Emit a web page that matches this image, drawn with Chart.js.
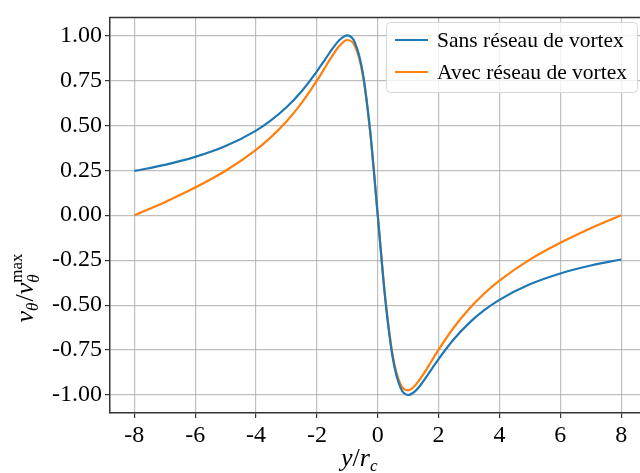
<!DOCTYPE html>
<html>
<head>
<meta charset="utf-8">
<script src="https://cdn.jsdelivr.net/npm/chart.js@4"></script>
<style>
  html, body { margin: 0; padding: 0; background: #fff; }
  #wrap { width: 640px; height: 473px; }
</style>
</head>
<body>
<div id="wrap"><canvas id="grafica"></canvas></div>
<script>
// positions y/r_c
const xValues = [-8, -7, -6, -5, -4, -3.5, -3, -2.5, -2, -1.75, -1.5, -1.25, -1, -0.75, -0.5, -0.25,
  0, 0.25, 0.5, 0.75, 1, 1.25, 1.5, 1.75, 2, 2.5, 3, 3.5, 4, 5, 6, 7, 8];

// Sans réseau de vortex
const sansReseau = [0.2462, 0.28, 0.3243, 0.3846, 0.4706, 0.5283, 0.6, 0.6897, 0.8, 0.8615, 0.9231, 0.9756, 1.0, 0.96, 0.8, 0.4706,
  0, -0.4706, -0.8, -0.96, -1.0, -0.9756, -0.9231, -0.8615, -0.8, -0.6897, -0.6, -0.5283, -0.4706, -0.3846, -0.3243, -0.28, -0.2462];

// Avec réseau de vortex
const avecReseau = [0, 0.0724, 0.1536, 0.247, 0.3633, 0.4354, 0.5211, 0.6244, 0.7481, 0.8162, 0.8843, 0.9433, 0.9742, 0.9407, 0.7872, 0.4643,
  0, -0.4643, -0.7872, -0.9407, -0.9742, -0.9433, -0.8843, -0.8162, -0.7481, -0.6244, -0.5211, -0.4354, -0.3633, -0.247, -0.1536, -0.0724, 0];

const xTicks = [-8, -6, -4, -2, 0, 2, 4, 6, 8];
const yTicks = [-1, -0.75, -0.5, -0.25, 0, 0.25, 0.5, 0.75, 1];
const legendLabels = ["Sans réseau de vortex", "Avec réseau de vortex"];

const BLUE = "#1f77b4";
const ORANGE = "#ff7f0e";
const SERIF = "'Liberation Serif', 'DejaVu Serif', serif";

function pts(ys) {
  return xValues.map((x, i) => ({ x: x, y: ys[i] }));
}

// titres, cadre du haut et légende dessinés à la main
const decorPlugin = {
  id: "decor",
  afterDraw(chart) {
    const ctx = chart.ctx;
    const a = chart.chartArea;
    ctx.save();

    // ligne du haut
    ctx.strokeStyle = "#333";
    ctx.lineWidth = 1.5;
    ctx.beginPath();
    ctx.moveTo(a.left - 0.75, a.top);
    ctx.lineTo(a.right, a.top);
    ctx.stroke();

    // légende
    const lx = 386, ly = 22, lw = 251, lh = 70;
    ctx.fillStyle = "rgba(255,255,255,0.8)";
    ctx.strokeStyle = "#d6d6d6";
    ctx.lineWidth = 1;
    ctx.beginPath();
    ctx.roundRect(lx + 0.5, ly + 0.5, lw, lh, 4);
    ctx.fill();
    ctx.stroke();
    const colors = [BLUE, ORANGE];
    ctx.font = "21.5px " + SERIF;
    ctx.textBaseline = "alphabetic";
    ctx.textAlign = "left";
    for (let i = 0; i < legendLabels.length; i++) {
      const y = 40 + i * 32;
      ctx.strokeStyle = colors[i];
      ctx.lineWidth = 2.2;
      ctx.beginPath();
      ctx.moveTo(395, y);
      ctx.lineTo(428, y);
      ctx.stroke();
      ctx.fillStyle = "#000";
      ctx.fillText(legendLabels[i], 437, y + 7);
    }

    // titre axe y : v_θ / v_θ^max
    const big = "italic 26px " + SERIF;
    const bigUp = "26px " + SERIF;
    const small = "italic 17px " + SERIF;
    const smallUp = "17px " + SERIF;
    ctx.fillStyle = "#000";
    ctx.font = big; const wv = ctx.measureText("v").width;
    ctx.font = small; const wth = ctx.measureText("θ").width;
    ctx.font = bigUp; const wsl = ctx.measureText("/").width;
    ctx.font = smallUp; const wmax = ctx.measureText("max").width;
    const total = wv + wth + 1 + wsl + wv + Math.max(wth, wmax);
    ctx.save();
    ctx.translate(33, 288);
    ctx.rotate(-Math.PI / 2);
    let cx = -total / 2;
    ctx.font = big; ctx.fillText("v", cx, 0); cx += wv;
    ctx.font = small; ctx.fillText("θ", cx, 5); cx += wth + 1;
    ctx.font = bigUp; ctx.fillText("/", cx, 0); cx += wsl;
    ctx.font = big; ctx.fillText("v", cx, 0); cx += wv;
    ctx.font = small; ctx.fillText("θ", cx, 6);
    ctx.font = smallUp; ctx.fillText("max", cx, -11);
    ctx.restore();

    // titre axe x : y / r_c
    let px = 341;
    const by = 466;
    ctx.font = big; ctx.fillText("y", px, by); px += ctx.measureText("y").width;
    ctx.font = bigUp; ctx.fillText("/", px, by); px += ctx.measureText("/").width;
    ctx.font = big; ctx.fillText("r", px, by); px += ctx.measureText("r").width;
    ctx.font = small; ctx.fillText("c", px, by + 5);

    ctx.restore();
  }
};

const gridCfg = {
  color: "rgba(170,170,170,0.75)",
  lineWidth: 1.2,
  tickColor: "#333",
  tickLength: 5
};

new Chart(document.getElementById("grafica"), {
  type: "line",
  data: {
    datasets: [
      {
        label: legendLabels[0],
        data: pts(sansReseau),
        borderColor: BLUE,
        borderWidth: 2.2,
        pointRadius: 0,
        cubicInterpolationMode: "monotone",
        fill: false
      },
      {
        label: legendLabels[1],
        data: pts(avecReseau),
        borderColor: ORANGE,
        borderWidth: 2.2,
        pointRadius: 0,
        cubicInterpolationMode: "monotone",
        fill: false
      }
    ]
  },
  options: {
    responsive: true,
    maintainAspectRatio: false,
    animation: false,
    layout: { padding: { top: 13, right: 0, left: 0, bottom: 0 } },
    plugins: {
      legend: { display: false },
      tooltip: { enabled: false }
    },
    scales: {
      x: {
        type: "linear",
        min: -8.8,
        max: 8.62,
        afterBuildTicks: (s) => { s.ticks = xTicks.map((v) => ({ value: v })); },
        afterFit: (s) => { s.height = 60; },
        ticks: {
          color: "#000",
          font: { family: SERIF, size: 24 },
          padding: 3,
          maxRotation: 0,
          callback: (v) => String(v)
        },
        grid: gridCfg,
        border: { color: "#333", width: 1.5 }
      },
      y: {
        min: -1.1,
        max: 1.1,
        afterBuildTicks: (s) => { s.ticks = yTicks.map((v) => ({ value: v })); },
        afterFit: (s) => { s.width = 110; },
        ticks: {
          color: "#000",
          font: { family: SERIF, size: 24 },
          padding: 3,
          callback: (v) => Number(v).toFixed(2)
        },
        grid: gridCfg,
        border: { color: "#333", width: 1.5 }
      }
    }
  },
  plugins: [decorPlugin]
});
</script>
</body>
</html>
